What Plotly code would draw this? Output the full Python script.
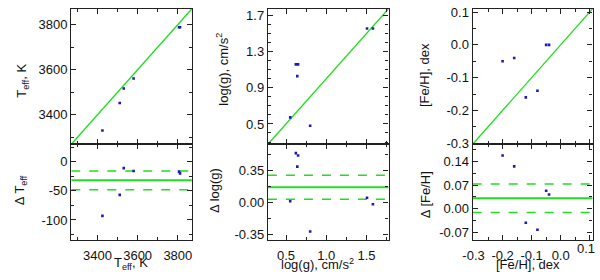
import plotly.graph_objects as go

# ---------------- data ----------------
# Panel 1: effective temperature
teff_ref = [3425, 3511, 3531, 3580, 3806, 3811]
teff_fit = [3331, 3453, 3517, 3561, 3788, 3788]
teff_delta = [-93, -57, -11, -16, -17, -20]
teff_mean, teff_sd = -32, 16

# Panel 2: log(g)
logg_ref = [0.552, 0.622, 0.65, 0.64, 0.80, 1.507, 1.58]
logg_fit = [0.573, 1.16, 1.16, 1.03, 0.48, 1.557, 1.557]
logg_delta = [0.013, 0.537, 0.512, 0.39, -0.317, 0.05, -0.02]
logg_mean, logg_sd = 0.165, 0.131

# Panel 3: [Fe/H]
feh_ref = [-0.20, -0.16, -0.12, -0.08, -0.05, -0.04]
feh_fit = [-0.05, -0.04, -0.16, -0.14, 0.00, 0.00]
feh_delta = [0.157, 0.125, -0.041, -0.062, 0.053, 0.042]
feh_mean, feh_sd = 0.031, 0.042

# axis ranges / ticks
teff_range = [3270, 3870]
teff_dy_range = [-135, 30]
logg_range = [0.275, 1.775]
logg_dy_range = [-0.414, 0.634]
feh_range = [-0.303, 0.11]
feh_dy_range = [-0.093, 0.19]

teff_ticks = [3400, 3600, 3800]
teff_dticks = [-100, -50, 0]
logg_xticks = [0.5, 1.0, 1.5]
logg_yticks = [0.5, 0.9, 1.3, 1.7]
logg_dticks = [-0.35, 0.0, 0.35]
feh_ticks = [-0.3, -0.2, -0.1, 0.0, 0.1]
feh_dticks = [-0.07, 0.0, 0.07, 0.14]

# ---------------- styling ----------------
FONT = "Liberation Sans, Arial, Helvetica, sans-serif"
PT = "#1c1cb0"
GREEN = "#22dd22"
AX = "#222222"

W, H = 600, 280
def px_x(a, b):
    return [a / W, b / W]
def px_y(top, bottom):
    return [1 - bottom / H, 1 - top / H]

xdoms = [px_x(62.3, 185), px_x(262.3, 385), px_x(470.5, 592.5)]
ytop = px_y(5, 146)
ybot = px_y(146, 246)

fig = go.Figure()

def axis(dom, rng, tickvals, ticktext, minor_dt, showlabels=True, anchor=None, standoff=0):
    return dict(
        domain=dom, range=rng, tickvals=tickvals, ticktext=ticktext,
        showticklabels=showlabels, ticks="inside", ticklen=5, tickwidth=1.2,
        tickcolor=AX, showline=True, linecolor=AX, linewidth=1.3,
        mirror="allticks", showgrid=False, zeroline=False,
        ticklabelstandoff=standoff,
        tickfont=dict(family=FONT, size=13, color="#111"),
        minor=dict(ticks="inside", ticklen=3, tickcolor=AX, tickwidth=1, dtick=minor_dt,
                   tick0=0, showgrid=False),
        anchor=anchor,
    )

panels = [
    dict(x=teff_ref, y=teff_fit, d=teff_delta, m=teff_mean, s=teff_sd,
         rng=teff_range, drng=teff_dy_range,
         xt=teff_ticks, xtt=[str(v) for v in teff_ticks], xminor=100,
         yt=teff_ticks, ytt=[str(v) for v in teff_ticks], yminor=100,
         dt=teff_dticks, dtt=[str(v) for v in teff_dticks], dminor=25),
    dict(x=logg_ref, y=logg_fit, d=logg_delta, m=logg_mean, s=logg_sd,
         rng=logg_range, drng=logg_dy_range,
         xt=logg_xticks, xtt=[f"{v:.1f}" for v in logg_xticks], xminor=0.25,
         yt=logg_yticks, ytt=[f"{v:.1f}" for v in logg_yticks], yminor=0.1,
         dt=logg_dticks, dtt=[f"{v:.2f}" for v in logg_dticks], dminor=0.175),
    dict(x=feh_ref, y=feh_fit, d=feh_delta, m=feh_mean, s=feh_sd,
         rng=feh_range, drng=feh_dy_range,
         xt=feh_ticks, xtt=[f"{v:.1f}" for v in feh_ticks], xminor=0.05,
         yt=feh_ticks, ytt=[f"{v:.1f}" for v in feh_ticks], yminor=0.05,
         dt=feh_dticks, dtt=[f"{v:.2f}" for v in feh_dticks], dminor=0.035),
]

layout = {}
for i, p in enumerate(panels):
    nt = 2 * i + 1
    nb = 2 * i + 2
    xt = "x" if nt == 1 else f"x{nt}"
    yt = "y" if nt == 1 else f"y{nt}"
    xb, yb = f"x{nb}", f"y{nb}"
    fig.add_trace(go.Scatter(x=p["rng"], y=p["rng"], mode="lines",
                             line=dict(color=GREEN, width=1.3), xaxis=xt, yaxis=yt,
                             showlegend=False, hoverinfo="skip"))
    fig.add_trace(go.Scatter(x=p["x"], y=p["y"], mode="markers",
                             marker=dict(symbol="square", size=2.6, color=PT, line=dict(width=0)),
                             xaxis=xt, yaxis=yt, showlegend=False))
    fig.add_trace(go.Scatter(x=p["rng"], y=[p["m"], p["m"]], mode="lines",
                             line=dict(color=GREEN, width=2), xaxis=xb, yaxis=yb,
                             showlegend=False, hoverinfo="skip"))
    for sgn in (1, -1):
        lv = p["m"] + sgn * p["s"]
        fig.add_trace(go.Scatter(x=p["rng"], y=[lv, lv], mode="lines",
                                 line=dict(color=GREEN, width=1.5, dash="dash"),
                                 xaxis=xb, yaxis=yb, showlegend=False, hoverinfo="skip"))
    fig.add_trace(go.Scatter(x=p["x"], y=p["d"], mode="markers",
                             marker=dict(symbol="square", size=2.6, color=PT, line=dict(width=0)),
                             xaxis=xb, yaxis=yb, showlegend=False))

    kx_t = "xaxis" if nt == 1 else f"xaxis{nt}"
    ky_t = "yaxis" if nt == 1 else f"yaxis{nt}"
    layout[kx_t] = axis(xdoms[i], p["rng"], p["xt"], p["xtt"], p["xminor"], False, anchor=yt)
    layout[ky_t] = axis(ytop, p["rng"], p["yt"], p["ytt"], p["yminor"], True, anchor=xt)
    layout[f"xaxis{nb}"] = axis(xdoms[i], p["rng"], p["xt"], p["xtt"], p["xminor"], True,
                                anchor=yb, standoff=3)
    layout[f"yaxis{nb}"] = axis(ybot, p["drng"], p["dt"], p["dtt"], p["dminor"], True, anchor=xb)

# last [Fe/H] tick label is drawn as text nudged left so it stays inside the page
layout["xaxis6"]["ticktext"] = [f"{v:.1f}" for v in feh_ticks[:-1]] + [" "]

def ann(text, x, y, angle=0, size=13, xanchor="center", yanchor="middle"):
    return dict(text=text, x=x / W, y=1 - y / H, xref="paper", yref="paper",
                showarrow=False, textangle=angle, xanchor=xanchor, yanchor=yanchor,
                borderpad=0, font=dict(family=FONT, size=size, color="#111"))

annotations = [
    ann("T<sub>eff</sub>, K", 13, 80, -90),
    ann("Δ T<sub>eff</sub>", 11, 194, -90),
    ann("T<sub>eff</sub>, K", 123, 280, yanchor="bottom"),
    ann("log(g), cm/s<sup>2</sup>", 216, 68, -90),
    ann("Δ log(g)", 208, 194, -90),
    ann("log(g), cm/s<sup>2</sup>", 313, 280, yanchor="bottom"),
    ann("[Fe/H], dex", 421, 74, -90),
    ann("Δ [Fe/H]", 422, 198, -90),
    ann("[Fe/H], dex", 527, 280, yanchor="bottom"),
    ann(f"{feh_ticks[-1]:.1f}", 586, 255),
]

fig.update_layout(
    width=W, height=H, margin=dict(l=0, r=0, t=0, b=0),
    paper_bgcolor="white", plot_bgcolor="white",
    annotations=annotations, **layout,
)

fig.write_html("out.html", config={"displayModeBar": False},
               post_script="document.body.style.margin='0px';document.body.style.padding='0px';")
